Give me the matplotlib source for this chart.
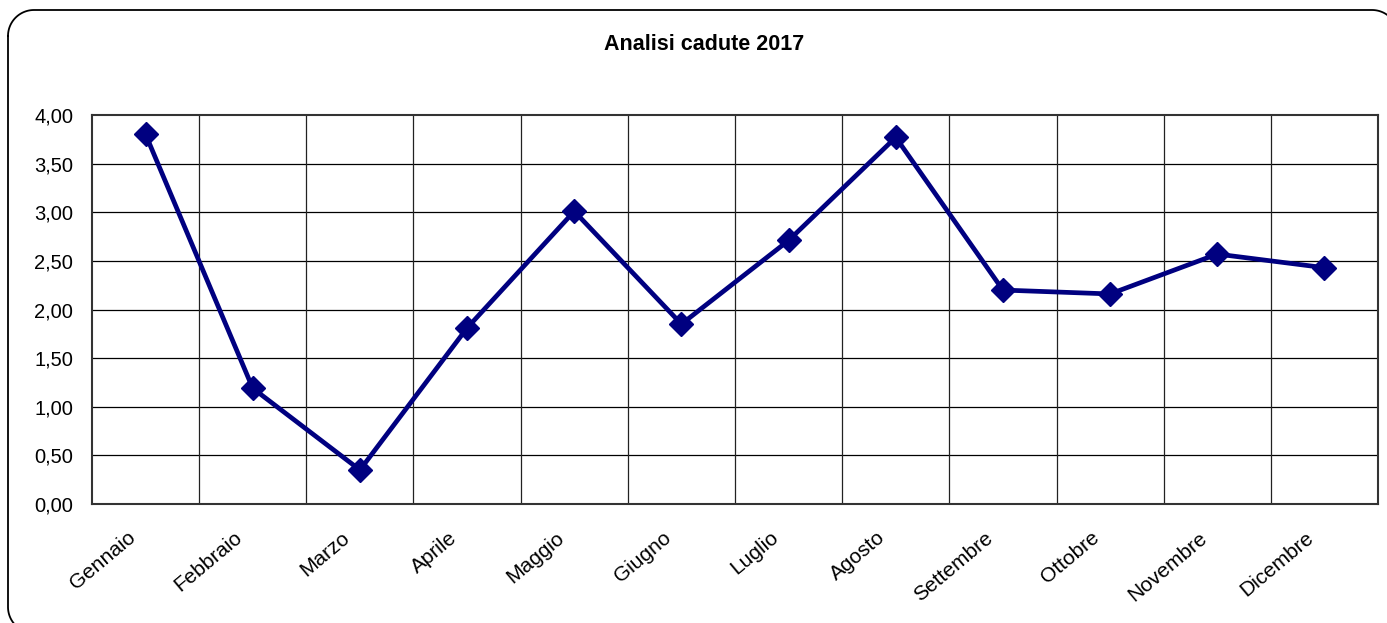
import matplotlib
matplotlib.use("Agg")
import numpy as np
import matplotlib.pyplot as plt
from matplotlib.ticker import FuncFormatter
from matplotlib.transforms import ScaledTranslation

months = ["Gennaio", "Febbraio", "Marzo", "Aprile", "Maggio", "Giugno",
          "Luglio", "Agosto", "Settembre", "Ottobre", "Novembre", "Dicembre"]
values = [3.80, 1.19, 0.35, 1.81, 3.01, 1.85, 2.71, 3.77, 2.20, 2.16, 2.57, 2.43]
yticks = [0.0, 0.5, 1.0, 1.5, 2.0, 2.5, 3.0, 3.5, 4.0]
title = "Analisi cadute 2017"

plt.rcParams['font.family'] = ['Liberation Sans', 'DejaVu Sans']

W, H = 1387, 623
fig = plt.figure(figsize=(W / 100, H / 100), dpi=100)

# rounded border drawn in pixel coordinates (y downward)
bg = fig.add_axes([0, 0, 1, 1], zorder=-1)
bg.set_xlim(0, W)
bg.set_ylim(H, 0)
bg.axis("off")
bx0, bx1, by0, by1, r = 8, 1398, 10, 633, 26
t = np.linspace(0, np.pi / 2, 30)
xs, ys = [], []
# top-left corner
xs += list(bx0 + r - r * np.cos(t)); ys += list(by0 + r - r * np.sin(t))
# top-right corner
xs += list(bx1 - r + r * np.sin(t)); ys += list(by0 + r - r * np.cos(t))
# bottom-right corner
xs += list(bx1 - r + r * np.cos(t)); ys += list(by1 - r + r * np.sin(t))
# bottom-left corner
xs += list(bx0 + r - r * np.sin(t)); ys += list(by1 - r + r * np.cos(t))
xs.append(xs[0]); ys.append(ys[0])
bg.plot(xs, ys, color="black", linewidth=1.3, clip_on=False)

left, right, top, bottom = 92, 1378, 115, 504
ax = fig.add_axes([left / W, 1 - bottom / H, (right - left) / W, (bottom - top) / H])

x = list(range(len(months)))
ax.plot(x, values, color="#000080", linewidth=3.4, marker="D", markersize=12.5,
        markeredgecolor="#000080", markerfacecolor="#000080", zorder=5, clip_on=False)

ax.set_xlim(-0.5, len(months) - 0.5)
ax.set_ylim(0, 4)
ax.set_yticks(yticks)
ax.yaxis.set_major_formatter(FuncFormatter(lambda v, p: f"{v:.2f}".replace(".", ",")))
ax.set_xticks(x)
ax.set_xticklabels([])
ax.tick_params(axis="y", labelsize=14.5, length=0, pad=13.5)
ax.tick_params(axis="x", length=0)

lab_tr = ax.get_xaxis_transform() + ScaledTranslation(-19 / 100, -24 / 100, fig.dpi_scale_trans)
for xi, m in zip(x, months):
    ax.text(xi, 0, m, transform=lab_tr, rotation=40, ha="right", va="top",
            rotation_mode="anchor", fontsize=15)

for yv in yticks[1:-1]:
    ax.axhline(yv, color="black", linewidth=0.9, zorder=1)
for xv in range(1, len(months)):
    ax.axvline(xv - 0.5, color="#222222", linewidth=0.9, zorder=1)
for s in ax.spines.values():
    s.set_color("#333333")
    s.set_linewidth(1.5)

fig.text(704 / W, 1 - 44 / H, title, ha="center", va="center",
         fontsize=15.5, fontweight="bold")

fig.savefig("out.png", dpi=100)
